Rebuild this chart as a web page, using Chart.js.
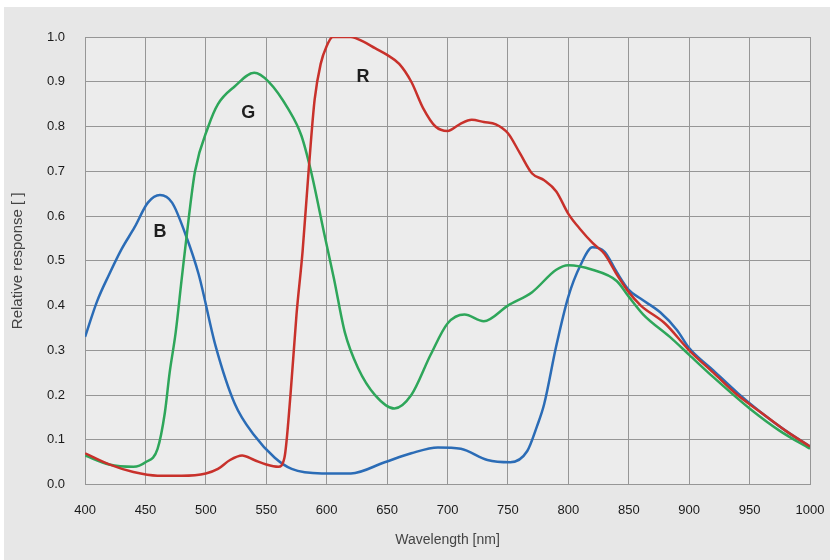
<!DOCTYPE html>
<html lang="en">
<head>
<meta charset="UTF-8">
<title>Relative response</title>
<script src="https://cdn.jsdelivr.net/npm/chart.js"></script>
<style>
  html, body { margin: 0; padding: 0; background: #fff; }
</style>
</head>
<body>
<canvas id="myChart" width="830" height="560"></canvas>
<script>
  // values
  const wlRed = [400, 420, 440, 460, 480, 500, 510, 520, 530, 540, 550, 560, 565, 570, 575, 580, 585, 590, 595, 600, 605, 610, 620, 630, 640, 650, 660, 670, 680, 690, 700, 710, 720, 730, 740, 750, 760, 770, 780, 790, 800, 810, 820, 830, 840, 850, 860, 880, 900, 920, 940, 960, 980, 1000];
  const red   = [0.07, 0.045, 0.028, 0.02, 0.02, 0.025, 0.035, 0.055, 0.065, 0.055, 0.045, 0.04, 0.06, 0.2, 0.38, 0.52, 0.7, 0.86, 0.94, 0.98, 1.0, 1.0, 1.0, 0.99, 0.975, 0.96, 0.94, 0.9, 0.84, 0.8, 0.79, 0.805, 0.815, 0.81, 0.805, 0.785, 0.74, 0.695, 0.68, 0.655, 0.605, 0.57, 0.54, 0.515, 0.47, 0.43, 0.4, 0.36, 0.3, 0.25, 0.2, 0.16, 0.12, 0.085];

  const wlGreen = [400, 420, 440, 450, 460, 466, 470, 475, 480, 486, 491, 502, 510, 524, 540, 552, 568, 579, 587, 598, 606, 615, 626, 640, 656, 670, 686, 700, 714, 730, 750, 770, 790, 800, 820, 840, 850, 862, 884, 900, 920, 950, 975, 1000];
  const green   = [0.065, 0.045, 0.04, 0.05, 0.08, 0.16, 0.25, 0.34, 0.46, 0.6, 0.7, 0.8, 0.85, 0.89, 0.92, 0.9, 0.84, 0.78, 0.7, 0.56, 0.46, 0.34, 0.26, 0.2, 0.17, 0.2, 0.29, 0.36, 0.38, 0.365, 0.4, 0.43, 0.48, 0.49, 0.48, 0.455, 0.42, 0.38, 0.33, 0.29, 0.24, 0.17, 0.12, 0.08];

  const wlBlue = [400, 410, 420, 430, 441, 452, 462, 472, 483, 494, 508, 524, 540, 557, 571, 596, 620, 648, 670, 692, 711, 733, 752, 766, 774, 780, 790, 800, 810, 820, 830, 840, 850, 860, 876, 890, 900, 920, 940, 960, 980, 1000];
  const blue   = [0.33, 0.41, 0.47, 0.525, 0.575, 0.63, 0.647, 0.63, 0.56, 0.47, 0.31, 0.18, 0.11, 0.06, 0.035, 0.025, 0.025, 0.05, 0.07, 0.083, 0.08, 0.055, 0.05, 0.075, 0.13, 0.18, 0.31, 0.42, 0.49, 0.53, 0.52, 0.475, 0.435, 0.415, 0.385, 0.345, 0.305, 0.255, 0.205, 0.16, 0.12, 0.085];

  const curveLabels = ['B', 'G', 'R'];
  const labelX = [462, 535, 630];
  const labelY = [0.564, 0.83, 0.91];

  function pairs(xs, ys) {
    return xs.map((x, i) => ({ x: x, y: ys[i] }));
  }

  const backdrop = {
    id: 'backdrop',
    beforeDraw(chart) {
      const c = chart.ctx;
      c.save();
      c.fillStyle = '#e7e7e7';
      c.fillRect(4, 7, chart.width - 4, chart.height - 7);
      const a = chart.chartArea;
      c.fillStyle = '#ececec';
      c.fillRect(a.left, a.top, a.right - a.left, a.bottom - a.top);
      c.restore();
    }
  };

  const curveText = {
    id: 'curveText',
    afterDatasetsDraw(chart) {
      const c = chart.ctx;
      const xs = chart.scales.x, ys = chart.scales.y;
      c.save();
      c.font = 'bold 18px Arial, "Liberation Sans", sans-serif';
      c.fillStyle = '#1e1e1e';
      c.textAlign = 'center';
      c.textBaseline = 'middle';
      curveLabels.forEach((t, i) => {
        c.fillText(t, xs.getPixelForValue(labelX[i]), ys.getPixelForValue(labelY[i]));
      });
      c.restore();
    }
  };

  const tickFont = { size: 13, family: 'Arial, "Liberation Sans", sans-serif' };
  const titleFont = { size: 14, family: 'Arial, "Liberation Sans", sans-serif' };

  const ctx = document.getElementById('myChart').getContext('2d');
  const myChart = new Chart(ctx, {
    type: 'line',
    data: {
      datasets: [
        { label: 'R', data: pairs(wlRed, red), borderColor: '#c8312b', borderWidth: 2.5, pointRadius: 0, fill: false, cubicInterpolationMode: 'monotone' },
        { label: 'G', data: pairs(wlGreen, green), borderColor: '#2ea65a', borderWidth: 2.5, pointRadius: 0, fill: false, cubicInterpolationMode: 'monotone' },
        { label: 'B', data: pairs(wlBlue, blue), borderColor: '#2b6cb6', borderWidth: 2.5, pointRadius: 0, fill: false, cubicInterpolationMode: 'monotone' }
      ]
    },
    options: {
      responsive: false,
      animation: false,
      devicePixelRatio: 1,
      layout: { padding: { top: 37, right: 0, left: 9, bottom: 7 } },
      plugins: { legend: { display: false }, tooltip: { enabled: false } },
      scales: {
        x: {
          type: 'linear',
          min: 400,
          max: 1000,
          afterFit(scale) { scale.paddingRight = 20; },
          ticks: { stepSize: 50, autoSkip: false, maxRotation: 0, color: '#1a1a1a', padding: 18, font: tickFont, callback: v => String(v) },
          grid: { color: '#969696', lineWidth: 1, drawTicks: false },
          border: { display: false },
          title: { display: true, text: 'Wavelength [nm]', color: '#444', font: titleFont, padding: { top: -4, bottom: 4 } }
        },
        y: {
          min: 0,
          max: 1,
          ticks: { stepSize: 0.1, autoSkip: false, color: '#1a1a1a', padding: 20, font: tickFont, callback: v => v.toFixed(1) },
          grid: { color: '#969696', lineWidth: 1, drawTicks: false },
          border: { display: false },
          title: { display: true, text: 'Relative response [ ]', color: '#444', font: { size: 15, family: 'Arial, "Liberation Sans", sans-serif' }, padding: 0 }
        }
      }
    },
    plugins: [backdrop, curveText]
  });
</script>
</body>
</html>
